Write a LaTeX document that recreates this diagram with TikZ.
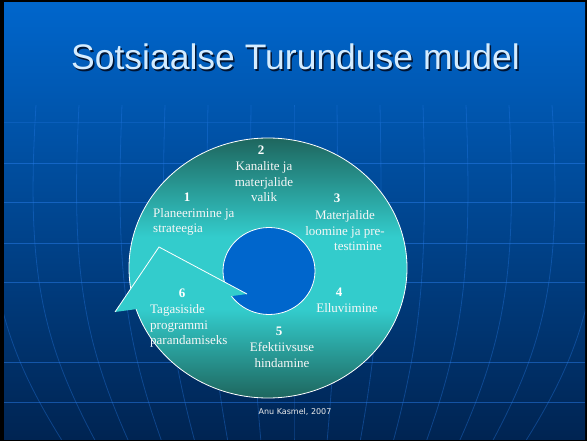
\documentclass[tikz,border=0pt]{standalone}
\usepackage{fontspec}
\setmainfont{Liberation Serif}
\newfontfamily\titlefont{Liberation Sans}
\newfontfamily\footfont{DejaVu Sans}

\definecolor{slidetop}{RGB}{0,102,204}
\definecolor{slidemid}{RGB}{0,76,160}
\definecolor{slidebot}{RGB}{0,36,82}
\definecolor{gridblue}{RGB}{40,125,235}
\definecolor{tealdk}{RGB}{30,102,94}
\definecolor{tealbr}{RGB}{51,204,204}
\definecolor{holeblue}{RGB}{0,102,204}
\definecolor{titletext}{RGB}{212,236,255}
\definecolor{shadowblue}{RGB}{0,20,50}

\pgfdeclareverticalshading{ringshade}{100bp}{color(0bp)=(tealdk); color(25bp)=(tealdk); color(42bp)=(tealbr); color(56bp)=(tealbr); color(75bp)=(tealdk); color(100bp)=(tealdk)}

\begin{document}
\begin{tikzpicture}[x=1pt, y=-1pt,
    num/.style={font=\bfseries\fontsize{13}{15.5}\selectfont, text=white, inner sep=0pt},
    lbl/.style={font=\fontsize{13}{15.5}\selectfont, text=white!94!gray, inner sep=0pt},
    ringline/.style={draw=white, line width=0.8pt}]

    % Фон слайда
    \fill[black] (0,0) rectangle (587,441);
    \useasboundingbox (0,0) rectangle (587,441);
    \shade[top color=slidetop, middle color=slidemid, bottom color=slidebot] (4,3) rectangle (585,439);

    % Сетка на фоне
    \begin{scope}
        \clip (4,3) rectangle (585,439);
        \draw[gridblue, opacity=0.25, line width=0.8pt] (4,122) -- (585,122);
        \foreach \y in {163,202,243,282,362,402}
            \draw[gridblue, opacity=0.5, line width=0.8pt] (4,\y) -- (585,\y);
        \foreach \k in {-7,...,7} {
            \pgfmathsetmacro\xa{294+43*\k}
            \pgfmathsetmacro\xb{294+44.7*\k}
            \pgfmathsetmacro\xc{294+42.1*\k}
            \pgfmathsetmacro\xd{294+33.1*\k}
            \draw[gridblue, opacity=0.35, line width=0.8pt] (\xa,105) .. controls (\xb,270) and (\xc,340) .. (\xd,441);
        }
    \end{scope}

    % Кольцо
    \shade[shading=ringshade] (268,268) ellipse [x radius=139, y radius=130];
    \draw[ringline] (268,268) ellipse [x radius=139, y radius=130];

    % Отверстие в центре
    \filldraw[fill=holeblue, ringline] (269,271) ellipse [x radius=46, y radius=43.5];

    % Наконечник стрелки
    \coordinate (tip) at (247,294);
    \coordinate (apex) at (159,247);
    \coordinate (foot) at (115,312);
    \fill[tealbr] (foot) -- (apex) -- (tip) -- cycle;
    \draw[white, line width=0.8pt] (foot) -- (apex) -- (tip);

    % Заголовок (с тенью)
    \node[font=\titlefont\fontsize{35.5}{40}\selectfont, text=shadowblue, anchor=base] (titleshadow) at (297,71.5) {Sotsiaalse Turunduse mudel};
    \node[font=\titlefont\fontsize{35.5}{40}\selectfont, text=titletext, anchor=base] (title) at (295.5,70) {Sotsiaalse Turunduse mudel};

    % Этапы
    \node[num] (n1) at (187,197) {1};
    \node[lbl, align=left, anchor=west] (t1) at (153,222) {Planeerimine ja\\strateegia};

    \node[num] (n2) at (261,150) {2};
    \node[lbl, align=center] (t2) at (264,182) {Kanalite ja\\materjalide\\valik};

    \node[num] (n3) at (337,198) {3};
    \node[lbl, align=center] (t3) at (345,231) {Materjalide\\loomine ja pre-\\\hspace*{26pt}testimine};

    \node[num] (n4) at (339,292) {4};
    \node[lbl] (t4) at (347,308) {Elluviimine};

    \node[num] (n5) at (279,331) {5};
    \node[lbl, align=center] (t5) at (282,355) {Efektiivsuse\\hindamine};

    \node[num] (n6) at (182,293) {6};
    \node[lbl, align=left, anchor=west] (t6) at (150,326) {Tagasiside\\programmi\\parandamiseks};

    % Подпись
    \node[font=\footfont\fontsize{8}{9.6}\selectfont, text=white!85!gray] (author) at (295,412) {Anu Kasmel, 2007};
\end{tikzpicture}
\end{document}
